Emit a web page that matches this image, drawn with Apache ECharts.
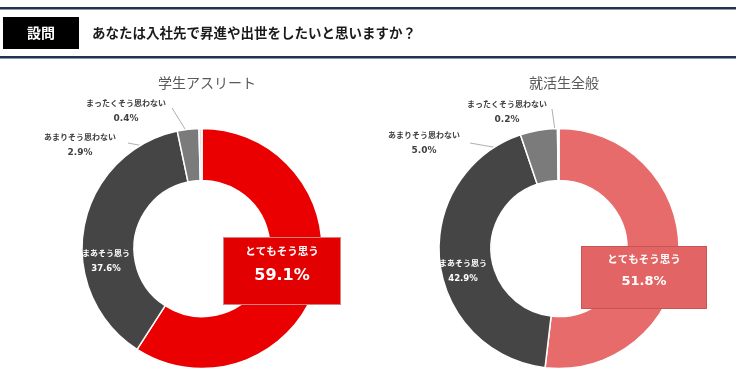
<!DOCTYPE html>
<html><head><meta charset="utf-8">
<script src="https://cdn.jsdelivr.net/npm/echarts@6/dist/echarts.min.js"></script>
<style>html,body{margin:0;padding:0;background:#fff}#c{width:736px;height:378px}</style>
</head><body><div id="c"></div>
<script>
const categories = ['とてもそう思う', 'まあそう思う', 'あまりそう思わない', 'まったくそう思わない'];
const athleteValues = [59.1, 37.6, 2.9, 0.4];
const generalValues = [51.8, 42.9, 5.0, 0.2];
const chartTitles = ['学生アスリート', '就活生全般'];
const questionTag = '設問';
const questionText = 'あなたは入社先で昇進や出世をしたいと思いますか？';

const JP = '"Noto Sans CJK JP", sans-serif';
const NUM = '"DejaVu Sans", sans-serif';
const R_IN = 68, R_OUT = 120;
const centers = [[202, 248.5], [559, 248.5]];
const palettes = [
  ['#ea0000', '#454545', '#7b7b7b', '#e4e4e4'],
  ['#e86b6b', '#454545', '#7b7b7b', '#e4e4e4']
];
const boxStyles = [
  {bg: '#e20000', border: '#d88080', w: 116, h: 66, nameSize: 10.5, valSize: 16, nameLH: 26, valLH: 24},
  {bg: '#e36464', border: '#c85454', w: 124, h: 61, nameSize: 10.5, valSize: 13, nameLH: 24, valLH: 22}
];
// label placement (pixels) per series / data index
const labelPos = [
  [{x: 282, y: 271}, {x: 106, y: 261}, {x: 80, y: 145, lx: 128, ly: 143}, {x: 126, y: 111, lx: 172, ly: 108}],
  [{x: 644, y: 277.5}, {x: 463, y: 271}, {x: 424, y: 143, lx: 470, ly: 143}, {x: 507, y: 112, lx: 552, ly: 109}]
];

function anchor(values, idx, center) {
  const total = values.reduce((a, b) => a + b, 0);
  let cum = 0;
  for (let i = 0; i < idx; i++) cum += values[i];
  const mid = (cum + values[idx] / 2) / total;
  const ang = mid * 2 * Math.PI;
  const r = (R_IN + R_OUT) / 2;
  return [center[0] + Math.sin(ang) * r, center[1] - Math.cos(ang) * r];
}

function buildSeries(si, values) {
  const pal = palettes[si];
  const box = boxStyles[si];
  const data = values.map((v, i) => {
    const item = {name: categories[i], value: v, itemStyle: {color: pal[i]}};
    if (i === 0) {
      item.label = {
        backgroundColor: box.bg, borderColor: box.border, borderWidth: 1,
        width: box.w, height: box.h, align: 'center', verticalAlign: 'middle',
        formatter: p => '{n|' + p.name + '}\n{v|' + p.value.toFixed(1) + '%}',
        rich: {
          n: {fontFamily: JP, fontSize: box.nameSize, color: '#fff', fontWeight: 'bold', lineHeight: box.nameLH, align: 'center'},
          v: {fontFamily: NUM, fontSize: box.valSize, color: '#fff', fontWeight: 'bold', lineHeight: box.valLH, align: 'center'}
        }
      };
      item.labelLine = {show: false};
    } else if (i === 1) {
      item.label = {
        formatter: p => '{n|' + p.name + '}\n{v|' + p.value.toFixed(1) + '%}',
        rich: {
          n: {fontFamily: JP, fontSize: 8, color: '#fff', fontWeight: 'bold', lineHeight: 16, align: 'center'},
          v: {fontFamily: NUM, fontSize: 8.5, color: '#fff', fontWeight: 'bold', lineHeight: 16, align: 'center'}
        }
      };
      item.labelLine = {show: false};
    } else {
      item.label = {
        formatter: p => '{n|' + p.name + '}\n{v|' + p.value.toFixed(1) + '%}',
        rich: {
          n: {fontFamily: JP, fontSize: 8, color: '#404040', fontWeight: 'bold', lineHeight: 16, align: 'center'},
          v: {fontFamily: NUM, fontSize: 9, color: '#404040', fontWeight: 'bold', lineHeight: 16, align: 'center'}
        }
      };
      item.labelLine = {show: true, lineStyle: {color: '#b0b0b0', width: 1}};
    }
    return item;
  });
  return {
    type: 'pie',
    center: centers[si],
    radius: [R_IN, R_OUT],
    startAngle: 90,
    clockwise: true,
    avoidLabelOverlap: false,
    silent: true,
    itemStyle: {borderColor: '#fff', borderWidth: 1.5},
    label: {show: true, position: 'outside'},
    labelLine: {show: true, length: 5, length2: 5},
    labelLayout: function (p) {
      const pos = labelPos[si][p.dataIndex];
      const res = {x: pos.x, y: pos.y, align: 'center', verticalAlign: 'middle'};
      if (pos.lx !== undefined) {
        const a = anchor(values, p.dataIndex, centers[si]);
        res.labelLinePoints = [[pos.lx, pos.ly], [(pos.lx + a[0]) / 2, (pos.ly + a[1]) / 2], a];
      }
      return res;
    },
    data: data
  };
}

const chart = echarts.init(document.getElementById('c'), null, {renderer: 'canvas'});
chart.setOption({
  animation: false,
  backgroundColor: '#fff',
  title: chartTitles.map((t, i) => ({
    text: t, left: centers[i][0], top: 71, textAlign: 'center',
    textStyle: {fontFamily: JP, fontSize: 14, fontWeight: 'normal', color: '#595959'}
  })),
  graphic: [
    {type: 'rect', shape: {x: 0, y: 7, width: 736, height: 2.5}, style: {fill: '#233152'}},
    {type: 'rect', shape: {x: 0, y: 56, width: 736, height: 2.5}, style: {fill: '#233152'}},
    {type: 'rect', shape: {x: 3, y: 17, width: 76, height: 32}, style: {fill: '#000'}},
    {type: 'text', x: 41, y: 33, style: {text: questionTag, fill: '#fff', font: 'bold 14px ' + JP, align: 'center', verticalAlign: 'middle'}},
    {type: 'text', x: 92, y: 33, style: {text: questionText, fill: '#1a1a1a', font: 'bold 13.5px ' + JP, align: 'left', verticalAlign: 'middle'}}
  ],
  series: [buildSeries(0, athleteValues), buildSeries(1, generalValues)]
});
</script></body></html>
